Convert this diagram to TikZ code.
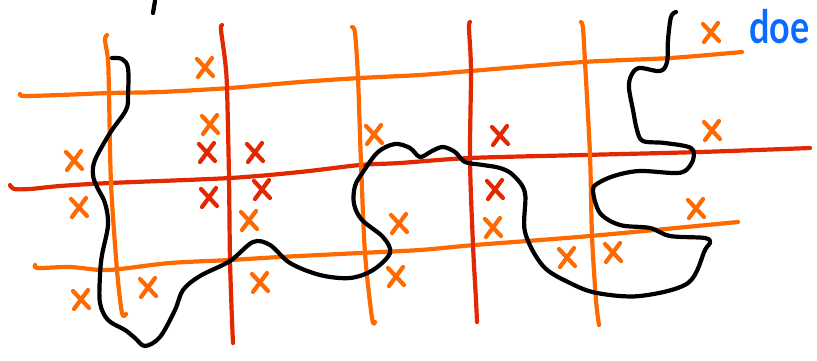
\documentclass[tikz,border=0pt]{standalone}
\usepackage{fontspec}
\newfontfamily\handfont{Lato}
\definecolor{penorange}{RGB}{255,106,0}
\definecolor{penred}{RGB}{226,40,0}
\definecolor{penblue}{RGB}{10,108,255}
\tikzset{
  stroke/.style={line width=4.2pt, line cap=round, line join=round},
  orangeline/.style={stroke, draw=penorange},
  redline/.style={stroke, draw=penred},
  blackline/.style={stroke, draw=black},
  crossmark/.pic={\draw[stroke, draw=\pgfkeysvalueof{/tikz/crosscolor}] (-8,-9) -- (8,8); \draw[stroke, draw=\pgfkeysvalueof{/tikz/crosscolor}] (7,-10) -- (-7,9);},
  crosscolor/.initial=penorange
}
\begin{document}
\begin{tikzpicture}[x=1pt,y=-1pt]
\useasboundingbox (0,0) rectangle (817,360);
% horizontal grid lines
\draw[orangeline] plot[smooth, tension=0.5] coordinates {(20,94) (24,96) (60,95) (110,93) (160,92) (230,88) (300,82) (360,78) (420,75) (470,71) (583,62) (670,58) (742,52)};
\draw[redline] plot[smooth, tension=0.5] coordinates {(10,185) (14,189) (30,189) (60,186) (110,183) (230,178) (300,172) (360,165) (400,163) (470,158) (583,155) (700,152) (810,148)};
\draw[orangeline] plot[smooth, tension=0.5] coordinates {(35,265) (38,268) (70,267) (100,270) (120,269) (170,263) (230,260) (280,257) (360,253) (420,250) (475,245) (590,236) (738,222)};
% vertical grid lines
\draw[orangeline] plot[smooth, tension=0.5] coordinates {(107,35) (105,40) (108,60) (109,93) (111,183) (117,270) (122,313) (126,314)};
\draw[redline] plot[smooth, tension=0.5] coordinates {(222,25) (221,30) (225,60) (227,88) (229,178) (230,260) (232,320) (233,343)};
\draw[orangeline] plot[smooth, tension=0.5] coordinates {(352,27) (355,33) (358,78) (361,163) (365,253) (372,318) (375,322)};
\draw[redline] plot[smooth, tension=0.5] coordinates {(470,22) (469,28) (471,71) (470,160) (473,245) (476,300) (477,322)};
\draw[orangeline] plot[smooth, tension=0.5] coordinates {(581,22) (583,28) (585,62) (590,155) (592,236) (596,300) (599,325)};
% black curves
\draw[blackline] (153,13) -- (155,1);
\draw[blackline] plot[smooth, tension=0.55] coordinates {
 (112,58) (122,59) (128,68) (128,95) (126,110) (110,133) (95,160) (93,175) (97,187) (105,203) (108,225) (102,255) (100,275) (100,303) (108,320) (125,330) (135,338) (145,346) (160,337) (175,310) (183,290) (200,276) (230,261) (253,242) (270,245) (290,263) (320,275) (350,278) (373,270) (390,253) (383,237) (362,220) (354,204) (355,186) (363,172) (378,152) (395,144) (410,148) (420,157) (432,151) (443,147) (455,152) (465,162) (483,165) (500,168) (513,175) (525,193) (525,232) (543,266) (570,283) (597,293) (640,296) (688,283) (705,250) (710,243) (705,238) (670,236) (650,228) (620,225) (600,213) (593,190) (600,182) (617,175) (640,171) (673,173) (685,171) (693,160) (691,148) (665,143) (643,141) (637,130) (633,110) (629,88) (631,76) (639,68) (660,71) (667,62) (668,40) (671,17) (676,12)};
% crosses
\foreach \px/\py in {205/68, 210/125, 374/135, 74/161, 79/208, 249/221, 399/224, 81/300, 148/288, 260/283, 396/277, 711/33, 712/131, 493/228, 696/209, 567/258, 613/253} {
  \pic at (\px,\py) {crossmark};
}
\foreach \px/\py in {207/153, 255/153, 209/198, 262/190, 500/136, 495/190} {
  \pic[crosscolor=penred] at (\px,\py) {crossmark};
}
\node[anchor=base west, inner sep=0pt, text=penblue, font=\handfont\bfseries\fontsize{46}{46}\selectfont] (label) at (749,43) {\scalebox{0.78}[1]{doe}};
\end{tikzpicture}
\end{document}
